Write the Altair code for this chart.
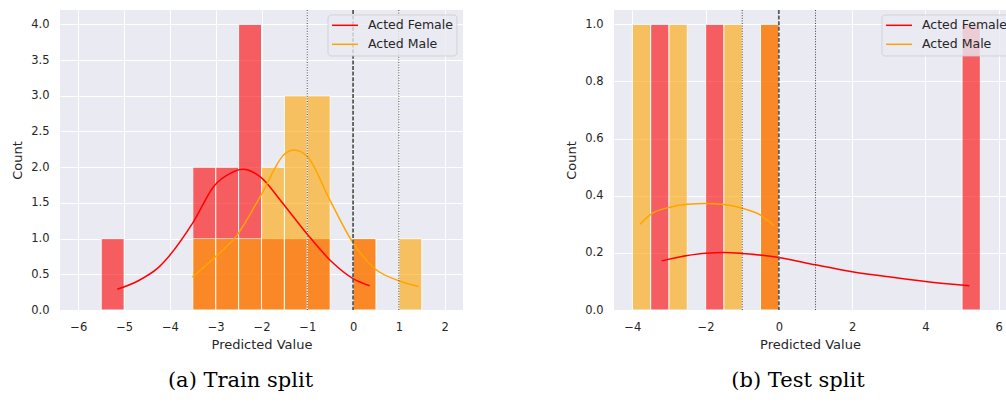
import altair as alt
import pandas as pd

# ---------------- data ----------------
BIN_WIDTH = 0.5
series_names = ["Acted Female", "Acted Male"]
series_colors = ["red", "orange"]

# Train split histogram (bin starts, counts)
train_female_bins = [-5.5, -3.5, -3.0, -2.5, -2.0, -1.5, -1.0, 0.0]
train_female_counts = [1, 2, 2, 4, 1, 1, 1, 1]
train_male_bins = [-3.5, -3.0, -2.5, -2.0, -1.5, -1.0, 0.0, 1.0]
train_male_counts = [1, 1, 1, 2, 3, 3, 1, 1]

# Train split KDE curves
train_female_kde_x = [-5.15, -4.69, -4.26, -3.5, -3.03, -2.66, -2.41, -2.0, -1.58, -1.0, -0.49, 0.0, 0.36]
train_female_kde_y = [0.29, 0.41, 0.59, 1.22, 1.74, 1.92, 1.97, 1.85, 1.53, 1.06, 0.69, 0.44, 0.34]
train_male_kde_x = [-3.51, -3.03, -2.52, -2.0, -1.5, -1.29, -1.0, -0.5, 0.0, 0.49, 1.0, 1.43]
train_male_kde_y = [0.46, 0.73, 1.06, 1.62, 2.18, 2.24, 2.15, 1.53, 0.94, 0.57, 0.41, 0.33]

# Test split histogram
test_female_bins = [-3.5, -2.0, -0.5, 5.0]
test_female_counts = [1, 1, 1, 1]
test_male_bins = [-4.0, -3.0, -1.5, -0.5]
test_male_counts = [1, 1, 1, 1]

# Test split KDE curves
test_female_kde_x = [-3.2, -2.0, -1.5, -1.0, 0.0, 1.0, 2.0, 3.0, 4.0, 5.2]
test_female_kde_y = [0.172, 0.199, 0.201, 0.198, 0.184, 0.158, 0.134, 0.116, 0.100, 0.085]
test_male_kde_x = [-3.79, -3.5, -3.0, -2.5, -2.0, -1.5, -1.0, -0.5, -0.13]
test_male_kde_y = [0.30, 0.335, 0.359, 0.370, 0.373, 0.369, 0.356, 0.332, 0.295]

dotted_lines = [-1, 1]
dashed_lines = [0]

train_x_domain = [-6.4, 2.4]
train_x_ticks = [-6, -5, -4, -3, -2, -1, 0, 1, 2]
train_y_domain = [0, 4.2]
train_y_ticks = [0, 0.5, 1.0, 1.5, 2.0, 2.5, 3.0, 3.5, 4.0]

test_x_domain = [-4.5, 6.2]
test_x_ticks = [-4, -2, 0, 2, 4, 6]
test_y_domain = [0, 1.05]
test_y_ticks = [0, 0.2, 0.4, 0.6, 0.8, 1.0]

captions = ["(a) Train split", "(b) Test split"]

FONT = "DejaVu Sans"


def hist_df(starts, counts):
    return pd.DataFrame({"x0": starts, "x1": [s + BIN_WIDTH for s in starts], "count": counts})


def panel(f_bins, f_counts, m_bins, m_counts, fkx, fky, mkx, mky,
          xdom, xticks, ydom, yticks, width, caption, cap_dx):
    xs = alt.Scale(domain=xdom, nice=False, zero=False)
    ys = alt.Scale(domain=ydom, nice=False, zero=True)
    xax = alt.Axis(values=xticks, format="d", title="Predicted Value", labelOverlap=False)
    yax = alt.Axis(values=yticks, format=".1f", title="Count", labelOverlap=False, tickCount=len(yticks))

    def bars(df, color):
        return alt.Chart(df).mark_rect(color=color, opacity=0.6, stroke="white", strokeWidth=1).encode(
            x=alt.X("x0:Q", scale=xs, axis=xax),
            x2="x1:Q",
            y=alt.Y("count:Q", scale=ys, axis=yax),
            y2=alt.datum(0),
        )

    def kde(xv, yv, color):
        df = pd.DataFrame({"x": xv, "y": yv})
        return alt.Chart(df).mark_line(color=color, strokeWidth=1.5, interpolate="monotone").encode(
            x=alt.X("x:Q", scale=xs),
            y=alt.Y("y:Q", scale=ys),
        )

    dotted = alt.Chart(pd.DataFrame({"v": dotted_lines})).mark_rule(
        color="#444444", strokeWidth=1, strokeDash=[1, 1.6]).encode(x=alt.X("v:Q", scale=xs))
    dashed = alt.Chart(pd.DataFrame({"v": dashed_lines})).mark_rule(
        color="#5a5a5a", strokeWidth=1.8, strokeDash=[4, 1.6]).encode(x=alt.X("v:Q", scale=xs))

    # legend (drawn inside the plot, upper right)
    lg_box = alt.Chart(pd.DataFrame({"a": [0]})).mark_rect(
        fill="#EAEAF2", fillOpacity=0.8, stroke="#CCCCCC", strokeOpacity=0.8, strokeWidth=1,
        cornerRadius=3, clip=True).encode(
        x=alt.value(268), x2=alt.value(397), y=alt.value(5), y2=alt.value(46))
    lg_parts = [lg_box]
    for i, (name, col) in enumerate(zip(series_names, series_colors)):
        yy = 15.3 + 19 * i
        lg_parts.append(
            alt.Chart(pd.DataFrame({"a": [0]})).mark_rule(color=col, strokeWidth=1.5, clip=True).encode(
                x=alt.value(272), x2=alt.value(298), y=alt.value(yy)))
        lg_parts.append(
            alt.Chart(pd.DataFrame({"label": [name]})).mark_text(
                align="left", baseline="middle", font=FONT, fontSize=12.5, color="#262626", clip=True).encode(
                x=alt.value(308), y=alt.value(yy), text="label:N"))

    layers = [bars(hist_df(f_bins, f_counts), "red"),
              bars(hist_df(m_bins, m_counts), "orange"),
              kde(fkx, fky, "red"), kde(mkx, mky, "orange"),
              dotted, dashed] + lg_parts
    return alt.layer(*layers).properties(
        width=width, height=300,
        title=alt.TitleParams(caption, orient="bottom", font="DejaVu Serif", fontSize=21,
                              fontWeight="normal", color="black", anchor="middle", offset=18, dx=cap_dx),
    )


left = panel(train_female_bins, train_female_counts, train_male_bins, train_male_counts,
             train_female_kde_x, train_female_kde_y, train_male_kde_x, train_male_kde_y,
             train_x_domain, train_x_ticks, train_y_domain, train_y_ticks, 403, captions[0], -21)
right = panel(test_female_bins, test_female_counts, test_male_bins, test_male_counts,
              test_female_kde_x, test_female_kde_y, test_male_kde_x, test_male_kde_y,
              test_x_domain, test_x_ticks, test_y_domain, test_y_ticks, 392, captions[1], -12)

chart = alt.hconcat(left, right, spacing=102).properties(
    padding={"left": 11, "top": 9, "right": 0, "bottom": 0},
    background="white",
).configure_view(fill="#EAEAF2", stroke=None).configure_axis(
    grid=True, gridColor="white", gridWidth=1, domain=False, ticks=False,
    labelFont=FONT, labelFontSize=11.5, labelColor="#262626", labelPadding=11,
    titleFont=FONT, titleFontSize=13, titleFontWeight="normal", titleColor="#262626",
    titlePadding=6,
)

chart.save("out.html", embed_options={"renderer": "svg", "actions": False})
